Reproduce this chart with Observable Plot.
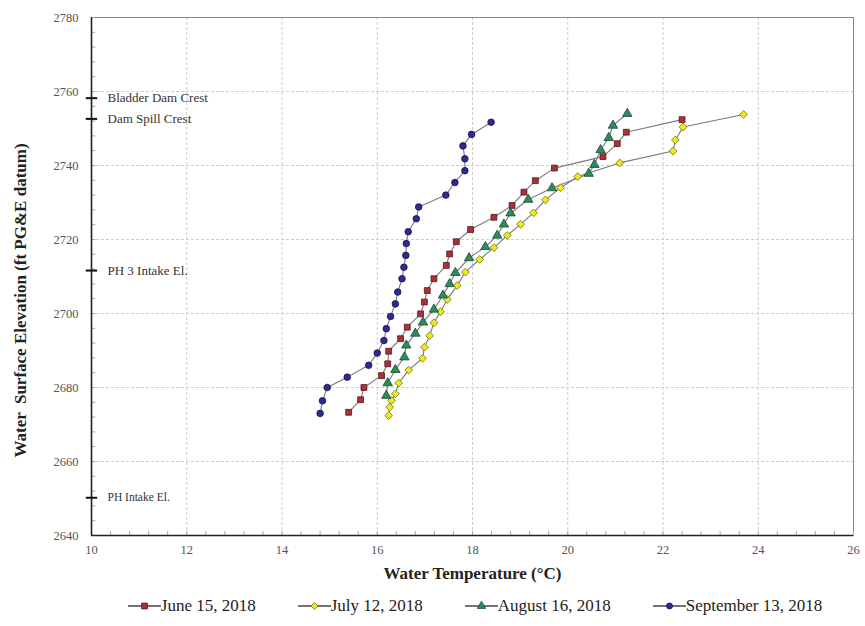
<!DOCTYPE html>
<html><head><meta charset="utf-8">
<script src="https://cdn.jsdelivr.net/npm/d3@7"></script>
<script src="https://cdn.jsdelivr.net/npm/@observablehq/plot@0.6"></script>
<style>
body{margin:0;background:#fff;font-family:"Liberation Serif","DejaVu Serif",serif;}
#legend{display:flex;justify-content:center;gap:42px;font-size:17px;color:#222;margin-top:6px;padding-left:85px;}
.item{display:flex;align-items:center;white-space:nowrap;}
</style></head><body>
<div id="chart"></div><div id="legend"></div>
<script>
// ---- data: [water temperature °C, water surface elevation ft] ----
const seriesNames = ["June 15, 2018", "July 12, 2018", "August 16, 2018", "September 13, 2018"];
const june = [[15.4,2673.3],[15.65,2676.7],[15.72,2680],[16.09,2683.2],[16.22,2686.4],[16.24,2689.8],[16.49,2693.2],[16.63,2696.3],[16.91,2699.9],[16.99,2703.1],[17.05,2706.2],[17.19,2709.4],[17.45,2713],[17.52,2716.1],[17.66,2719.4],[17.96,2722.7],[18.45,2726],[18.83,2729.2],[19.08,2732.8],[19.32,2735.9],[19.72,2739.3],[20.74,2742.4],[21.04,2745.9],[21.23,2749],[22.4,2752.4]];
const july = [[16.24,2672.4],[16.26,2674.7],[16.3,2676.5],[16.38,2678.3],[16.45,2681.2],[16.66,2684.7],[16.95,2687.9],[16.99,2690.9],[17.1,2694],[17.19,2697.5],[17.33,2700.5],[17.47,2703.8],[17.68,2707.6],[17.85,2711.2],[18.15,2714.6],[18.45,2717.8],[18.73,2721.1],[19.01,2724.1],[19.28,2727.2],[19.53,2730.7],[19.85,2734],[20.21,2737],[21.09,2740.7],[22.21,2743.9],[22.26,2746.9],[22.42,2750.4],[23.69,2753.8]];
const august = [[16.19,2677.8],[16.22,2681.2],[16.38,2684.8],[16.57,2688.2],[16.61,2691.4],[16.8,2694.6],[16.96,2697.6],[17.19,2701.1],[17.38,2704.9],[17.52,2708],[17.64,2711],[17.93,2715],[18.27,2718],[18.52,2721.1],[18.66,2724.1],[18.8,2727.1],[19.17,2730.8],[19.67,2733.9],[20.44,2737.8],[20.56,2740.2],[20.69,2744.2],[20.86,2747.5],[20.95,2750.8],[21.25,2754]];
const september = [[14.8,2673],[14.85,2676.4],[14.95,2680],[15.37,2682.8],[15.82,2686],[16.0,2689.3],[16.14,2692.7],[16.19,2695.9],[16.28,2699.2],[16.38,2702.6],[16.43,2705.8],[16.52,2709.4],[16.56,2712.5],[16.6,2715.7],[16.61,2718.9],[16.65,2722.1],[16.82,2725.6],[16.87,2728.8],[17.44,2732],[17.63,2735.4],[17.84,2738.6],[17.84,2741.8],[17.8,2745.3],[17.98,2748.4],[18.39,2751.7]];
const annotationNames = ["Bladder Dam Crest", "Dam Spill Crest", "PH 3 Intake El.", "PH Intake El."];
const annotationElev = [2758.2, 2752.6, 2711.6, 2650.2];
const xTicks = [10,12,14,16,18,20,22,24,26];
const yTicks = [2640,2660,2680,2700,2720,2740,2760,2780];

const styles = [
  {symbol:"square", fill:"#a8323a", stroke:"#5a1418", r:3.3, legendArea:34},
  {symbol:"diamond2", fill:"#ecec1c", stroke:"#6e6e10", r:3.5, legendArea:32},
  {symbol:"triangle", fill:"#2f8a5c", stroke:"#1a4a32", r:3.5, legendArea:30},
  {symbol:"circle", fill:"#2c2c8e", stroke:"#14144e", r:3.3, legendArea:28}
];
const allSeries = [june, july, august, september];
const rows = allSeries.flatMap((s,i)=>s.map(([t,e])=>({series:seriesNames[i], idx:i, t, e})));
const minorX = d3.range(10, 26.01, 0.4);
const minorY = d3.range(2640, 2780.01, 4);
const annots = annotationNames.map((n,i)=>({name:n, e:annotationElev[i]}));

const marks = [
  Plot.gridX(xTicks.slice(1,-1), {stroke:"#cdcdcd", strokeOpacity:1, strokeDasharray:"3,2"}),
  Plot.gridY(yTicks.slice(1,-1), {stroke:"#cdcdcd", strokeOpacity:1, strokeDasharray:"3,2"}),
  Plot.frame({stroke:"#888"}),
  Plot.ruleX(minorX, {x:d=>d, y1:2640, y2:2641.1, stroke:"#aaa"}),
  Plot.ruleY(minorY, {y:d=>d, x1:10, x2:10.09, stroke:"#aaa"}),
  Plot.ruleX([10], {stroke:"#222", strokeWidth:1.6}),
  Plot.ruleY([2640], {stroke:"#222", strokeWidth:1.6}),
  Plot.ruleY(annots, {y:"e", x1:9.89, x2:10.13, stroke:"#111", strokeWidth:2}),
  Plot.text(annots, {x:10, y:"e", text:"name", textAnchor:"start", dx:16, fontSize:(d)=>d.name==="PH Intake El."?11.5:13, fill:"#333"}),
  Plot.axisX(xTicks, {tickSize:0, tickPadding:10, fontSize:12.5, fill:"#555", label:null}),
  Plot.axisY(yTicks, {tickSize:0, tickPadding:13, fontSize:12.5, fill:"#555", label:null, tickFormat:d3.format("d")}),
  Plot.line(rows, {x:"t", y:"e", z:"series", stroke:"#7a7a7a", strokeWidth:1.1}),
  ...styles.map((s,i)=>Plot.dot(rows.filter(d=>d.idx===i), {x:"t", y:"e", symbol:()=>s.symbol, r:s.r, fill:s.fill, stroke:s.stroke, strokeWidth:0.8})),
  Plot.text(["Water Temperature (°C)"], {frameAnchor:"bottom", dy:43, fontSize:17, fontWeight:"bold", fill:"#222"}),
  Plot.text(["Water  Surface Elevation (ft PG&E datum)"], {frameAnchor:"left", textAnchor:"middle", dx:-71, dy:24, rotate:-90, fontSize:17, fontWeight:"bold", fill:"#222", letterSpacing:"1.2px"})
];

const chart = Plot.plot({
  width:865, height:590,
  marginTop:17, marginBottom:55, marginLeft:91, marginRight:12,
  style:{fontFamily:"'Liberation Serif', 'DejaVu Serif', serif", background:"#fff"},
  x:{domain:[10,26]},
  y:{domain:[2640,2780]},
  symbol:{type:"identity"},
  marks
});
document.getElementById("chart").appendChild(chart);

// legend
const legend = document.getElementById("legend");
seriesNames.forEach((name,i)=>{
  const s = styles[i];
  const item = document.createElement("div"); item.className="item";
  const svg = d3.create("svg").attr("width",33).attr("height",16);
  svg.append("line").attr("x1",0).attr("x2",33).attr("y1",8).attr("y2",8).attr("stroke","#444").attr("stroke-width",1.5);
  const sym = {square:d3.symbolSquare, diamond2:d3.symbolDiamond2, triangle:d3.symbolTriangle, circle:d3.symbolCircle}[s.symbol];
  svg.append("path").attr("transform","translate(16.5,8)").attr("d", d3.symbol(sym, s.legendArea)()).attr("fill",s.fill).attr("stroke",s.stroke).attr("stroke-width",0.8);
  item.appendChild(svg.node());
  const span = document.createElement("span"); span.textContent = name;
  item.appendChild(span);
  legend.appendChild(item);
});
</script>
</body></html>
